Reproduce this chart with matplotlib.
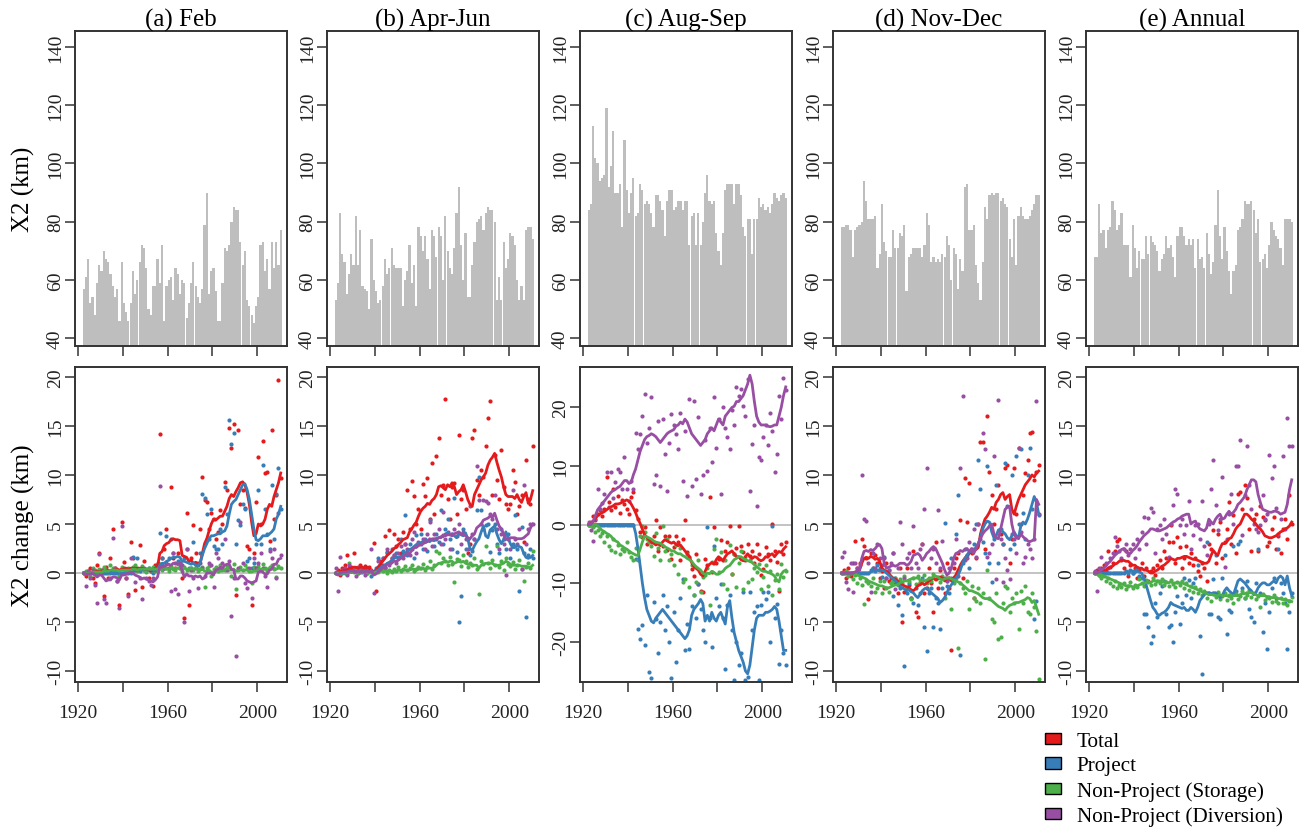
import numpy as np
import matplotlib
matplotlib.use('Agg')
import matplotlib.pyplot as plt
from matplotlib.patches import Patch

plt.rcParams['font.family'] = 'Liberation Serif'
plt.rcParams['axes.unicode_minus'] = False

years = np.arange(1922, 2011)

# X2 (km), one bar per year, 1922-2010
bars_feb = [57, 61, 67, 52, 54, 48, 59, 65,
            63, 70, 67, 66, 62, 58, 54, 57, 46, 66,
            52, 49, 46, 52, 63, 55, 60, 66, 72, 71,
            64, 50, 48, 58, 58, 67, 59, 72, 46, 58,
            60, 61, 53, 64, 62, 55, 60, 59, 47, 52,
            59, 66, 58, 54, 52, 57, 79, 90, 55, 63,
            64, 56, 46, 46, 59, 71, 70, 72, 80, 85,
            84, 84, 73, 65, 70, 53, 51, 48, 45, 51,
            54, 72, 73, 63, 67, 57, 73, 64, 73, 65, 77]
bars_amj = [53, 59, 83, 69, 66, 55, 62, 69, 65, 82, 65, 77, 58, 57, 56, 50, 74, 60,
            56, 52, 53, 58, 67, 62, 64, 71, 65, 64, 64, 64, 51, 60, 63, 72, 59, 65, 51, 78, 75, 70,
            75, 67, 57, 77, 75, 68, 78, 75, 60, 82, 70, 64, 62, 71, 83, 92, 72, 60, 76, 54, 54, 65,
            73, 80, 81, 82, 77, 83, 85, 84, 84, 80, 53, 61, 53, 73, 64, 67, 76, 75, 72, 60, 53, 58,
            53, 77, 78, 78, 74]
bars_as = [84, 86, 113, 102, 100, 94, 95, 96, 119, 92, 99,
           111, 90, 90, 93, 78, 108, 91, 83, 90, 95,
           82, 83, 93, 91, 86, 87, 86, 83, 78, 89,
           89, 87, 84, 75, 87, 91, 91, 84, 85, 87,
           87, 84, 87, 87, 72, 82, 83, 72, 83, 72, 80,
           90, 96, 87, 86, 87, 76, 70, 65, 76, 91,
           93, 93, 93, 86, 93, 93, 89, 78, 75, 81,
           81, 69, 81, 81, 88, 85, 86, 84, 85, 83, 86,
           90, 88, 87, 89, 90, 88]
bars_nd = [78, 78, 79, 79, 77, 68, 77, 78, 79, 80,
           94, 87, 81, 81, 81, 82, 64, 69, 86, 73, 70,
           68, 68, 77, 71, 71, 76, 75, 79, 56, 68,
           69, 71, 71, 71, 71, 68, 72, 83, 79, 66,
           68, 66, 67, 66, 69, 68,
           75, 72, 60, 71, 69, 57, 67, 63, 92, 93,
           77, 77, 79, 65, 59, 53, 66, 85, 81, 89,
           90, 89, 90, 90, 87, 88,
           86, 85, 74, 68, 81, 65, 82, 85, 82, 81,
           81, 82, 84, 86, 89, 89]
bars_ann = [68, 68, 86, 76, 77, 71, 77, 78, 87, 84,
            77, 79, 83, 72, 72, 72, 61, 79, 71, 64, 70,
            67, 67, 75, 69, 75, 73, 72, 70, 63, 67,
            69, 75, 71, 72, 68, 61, 75, 78, 78, 75, 72,
            74, 72, 74, 64, 74, 67, 68, 64, 76, 69,
            62, 66, 79, 91, 75, 67, 78, 70, 63, 55, 63,
            65, 77, 78, 81, 87, 86, 86, 87, 84, 76,
            81, 66, 67, 69, 64, 72, 80, 77, 75, 74,
            71, 65, 81, 81, 81, 80]

# X2 change (km): yearly points and smoothed lines
# Feb
feb_tot_pts = [0, -0.3, 0.2, 0.5, -0.5, -1.0, 0.8, 2.0,
               0.3, -2.3, 0.6, -0.5, 1.5, 4.5, 0.5, -0.8, -3.3, 5.2,
               1.1, -0.5, -2.1, 3.2, 1.5, -1.7, 0.5, 2.9, -1.4, 1.2,
               0.3, -0.5, 0.2, -1.3, 0.8, 1.0, 14.2, 1.5, 2.5, 4.5,
               0.5, 8.8, 1.5, 0.5, 2.0, 1.0, -0.5, -4.6, 6.1, -3.3,
               1.5, 4.9, 2.0, 1.0, 4.5, 9.8, 7.4, 7.2, 4.5, 6.1,
               5.5, 3.5, 4.2, 6.4, 5.0, 9.3, 8.5, 14.8, 12.7, 15.2,
               -2.2, 14.6, 7.0, 8.5, 6.6, 2.8, 2.5, -3.3, 2.0, 7.2,
               11.8, 5.0, 13.5, 10.2, 10.3, 3.3, 14.6, 5.5, 8.0, 19.7, 9.7]
feb_tot_line = [0, 0, 0, 0, 0.1, 0.1, 0.2, 0.1,
                0.2, 0.1, 0.2, 0.3, 0.2, 0.3, 0.3, 0.4, 0.3, 0.4,
                0.4, 0.5, 0.4, 0.5, 0.5, 0.5, 0.4, 0.5, 0.5, 0.4,
                0.4, 0.3, 0.2, 0.3, 0.5, 0.6, 2.0, 2.2, 2.8, 3.0,
                3.1, 3.4, 3.5, 3.4, 3.4, 3.3, 1.8, 1.7, 1.6, 1.2,
                1.3, 1.0, 1.1, 0.9, 1.0, 2.0, 3.0, 3.5, 4.3, 5.0,
                5.5, 5.4, 5.6, 5.8, 5.8, 6.3, 6.8, 7.6, 8.0, 7.8,
                8.3, 8.7, 9.2, 9.3, 9.0, 8.2, 7.0, 5.2, 3.8, 4.0,
                5.0, 4.8, 5.0, 5.5, 6.5, 7.0, 6.8, 7.8, 8.5, 9.2, 10.2]
feb_prj_pts = [0, 0, 0, 0, 0, 0, 0, 0,
               0, 0, 0, 0, 0, 0, 0, 0, 0, 0,
               0, 0, 0, 0, 1.6, 0.3, 1.5, 0.2, 0.5, 0.3,
               0.3, 0.5, 0.2, 0, 0.5, 0.8, 4.1, 1.5, 0.5, 3.8,
               1.5, 3.5, 2.0, 1.0, 1.2, 0.8, 0.5, 1.5, 2.5, 0.5,
               0.5, 3.2, 1.0, 0.8, 2.0, 8.1, 7.7, 6.0, 3.5, 6.5,
               2.8, 2.5, 2.5, 4.5, 3.0, 8.8, 6.0, 15.6, 13.2, 14.3,
               3.0, 5.4, 4.9, 7.0, 6.5, 1.2, 1.5, 0.5, 1.0, 3.0,
               8.5, 3.0, 11.0, 6.5, 4.0, 2.5, 9.0, 3.5, 8.1, 10.7, 6.5]
feb_prj_line = [0, 0, 0, 0, 0, 0, 0, 0,
                0, 0, 0, 0, 0, 0, 0, 0, 0, 0,
                0, 0, 0, 0, 0.2, 0.2, 0.3, 0.3, 0.3, 0.4,
                0.4, 0.4, 0.4, 0.3, 0.4, 0.4, 0.8, 1.0, 1.0, 1.2,
                1.3, 1.5, 1.6, 1.6, 1.7, 1.6, 1.2, 1.2, 1.1, 1.0,
                0.9, 1.0, 0.8, 0.8, 1.0, 1.8, 2.5, 3.0, 3.5, 3.8,
                3.8, 3.9, 4.0, 4.0, 4.2, 4.3, 4.8, 6.0, 7.0, 7.3,
                7.5, 8.0, 8.5, 9.0, 9.1, 8.5, 7.5, 6.0, 4.5, 3.4,
                3.3, 3.5, 3.8, 3.8, 3.8, 4.0, 4.2, 4.5, 5.5, 6.0, 6.8]
feb_sto_pts = [0, 0.2, 0.1, -0.3, 0.5, 0.3, -0.2, 0.4,
               0.2, 0.6, 0.3, 0.1, 0.8, 0.5, 0.2, 0.3, -0.3, 0.6,
               0.4, 0.2, 0.5, 0.3, 0.6, 0.8, 0.2, 0.4, 0.7, 0.3,
               0.1, 0.5, 0.3, 0.6, 0.2, 0.4, 0.9, 0.3, 0.6, 0.5,
               0.2, 0.7, 0.4, 0.3, 0.9, 0.5, 0.2, 0.6, 0.3, 0.4,
               0.5, 0.3, 0.8, 0.2, 0.4, 0.6, -1.4, 0.5, 0.7, -0.3,
               0.4, 0.6, 0.2, 0.8, 0.5, 0.3, 0.7, 0.4, -0.3, 0.9,
               -1.6, 0.4, 0.6, 0.3, 0.8, 0.5, 0.2, -1.0, 0.6, 0.4,
               0.7, 0.3, 0.9, 0.5, 0.2, 0.6, 0.8, 0.4, -0.4, 0.7, 0.5]
feb_sto_line = [0, 0, 0, 0, 0.1, 0.1, 0.1, 0.1,
                0.1, 0.2, 0.2, 0.2, 0.3, 0.3, 0.3, 0.3, 0.2, 0.3,
                0.3, 0.3, 0.3, 0.3, 0.4, 0.4, 0.3, 0.4, 0.4, 0.4,
                0.4, 0.4, 0.4, 0.4, 0.4, 0.4, 0.4, 0.5, 0.5, 0.4,
                0.4, 0.5, 0.4, 0.5, 0.5, 0.4, 0.5, 0.5, 0.4, 0.4,
                0.4, 0.4, 0.5, 0.4, 0.4, 0.4, 0.2, 0.2, 0.3, 0.1,
                0.1, 0.2, 0.2, 0.2, 0.2, 0.3, 0.5, 0.4, 0.3, 0.4,
                0.2, 0.2, 0.3, 0.3, 0.3, 0.3, 0.2, 0.1, 0.2, 0.2,
                0.4, 0.4, 0.4, 0.4, 0.4, 0.5, 0.5, 0.5, 0.4, 0.5, 0.5]
feb_div_pts = [0, -1.3, 0.2, -0.5, 0.3, -1.2, -3.1, 1.9,
               0.3, -2.6, -3.1, 0.2, -0.5, 3.6, 0.5, -0.8, -3.6, 4.8,
               0.5, -0.5, -2.3, 1.5, 0.3, -0.9, 0.3, -0.5, -2.6, 0.5,
               -0.5, -0.8, -1.2, -0.5, 0.3, 0.5, 8.9, 0.8, 0.5, 1.0,
               0.5, -1.8, 2.0, -1.6, -2.1, 1.0, 0.8, -5.0, 2.5, -1.8,
               0.3, -0.5, 0.5, -1.5, 1.0, 0.5, -0.3, 3.5, 1.0, 0.8,
               -1.4, 2.0, 1.5, 0.5, 1.0, 3.5, 0.3, 1.2, -4.4, -0.5,
               -8.4, 0.5, 5.2, 1.0, -1.0, -1.5, 0.5, -2.5, 1.5, 0.5,
               1.0, 2.0, 0.5, -0.3, -1.4, 2.3, 1.5, 2.5, -0.5, 6.1, 1.8]
feb_div_line = [0, -0.1, -0.1, -0.1, 0, -0.2, -0.4, -0.2,
                -0.2, -0.5, -0.8, -0.7, -0.7, -0.4, -0.4, -0.5, -0.7, -0.2,
                -0.2, -0.1, 0, 0.1, 0, -0.2, -0.3, -0.4, -0.6, -0.5,
                -0.6, -0.7, -0.8, -0.9, -0.7, -0.4, 0.6, 0.6, 0.7, 0.8,
                0.9, 0.8, 1.0, 1.0, 0.9, 1.0, 0.2, -0.4, -0.1, -0.3,
                -0.3, -0.4, -0.3, -0.4, -0.3, -0.6, -0.5, 0, 0, 0,
                -0.2, 0.3, 0.4, 0.6, 0.5, 0.8, 0.9, 0.9, 0.4, 0.3,
                -0.6, -0.6, -0.3, -0.3, -0.5, -0.8, -0.9, -1.0, -0.9, -0.8,
                0.1, 0.2, 0.1, -0.1, -0.1, 0.3, 0.4, 0.9, 0.9, 1.4, 1.5]

# Apr-Jun
amj_tot_pts = [0, 0.3, -0.2, 0.5, 0.8, 1.8, 0.4, 0.6,
               2.0, 0.5, 0.3, 0.8, 0.4, 0.7, 0.2, 0.6, 0.3, 3.1,
               -1.8, 0.6, 1.2, 0.8, 3.8, 2.1, 4.4, 1.5, 4.0, 2.8,
               3.5, 2.0, 4.2, 3.0, 8.5, 4.5, 9.4, 7.9, 5.0, 6.5,
               4.5, 9.1, 7.9, 9.7, 5.5, 11.2, 6.0, 11.9, 13.8, 8.0,
               9.0, 17.7, 7.5, 5.5, 8.8, 9.2, 6.0, 14.1, 7.5, 8.5,
               6.5, 2.0, 3.0, 13.8, 14.6, 9.5, 8.0, 10.5, 9.8, 13.0,
               15.8, 17.5, 8.0, 12.0, 9.5, 7.5, 12.5, 8.8, 7.0, 6.5,
               7.0, 10.5, 9.3, 6.0, 6.8, 8.0, 3.2, 11.5, 7.5, 7.0, 12.9]
amj_tot_line = [0, 0.1, 0.2, 0.2, 0.3, 0.3, 0.5, 0.5,
                0.6, 0.6, 0.5, 0.6, 0.6, 0.5, 0.6, 0.5, 0.2, 0.1,
                0.3, 0.6, 0.9, 1.2, 1.5, 1.8, 2.0, 2.2, 2.5, 2.6,
                2.9, 3.1, 3.4, 3.5, 3.6, 4.2, 4.5, 4.9, 5.2, 5.8,
                6.3, 6.6, 6.8, 7.1, 7.0, 7.4, 7.6, 8.0, 8.8, 8.9,
                8.7, 8.5, 9.0, 8.8, 9.2, 8.8, 8.0, 8.3, 8.5, 9.0,
                8.3, 7.5, 7.0, 6.8, 8.0, 8.5, 9.0, 9.5, 9.8, 10.2,
                11.0, 11.5, 11.8, 12.2, 11.3, 10.5, 9.8, 8.8, 8.0, 7.8,
                7.8, 7.8, 7.6, 8.0, 7.5, 7.2, 7.8, 8.2, 7.1, 7.5, 8.4]
amj_prj_pts = [0, 0, 0, 0, 0, 0, 0.3, 0.2,
               0.3, 0.2, 0, 0.3, 0.1, 0.4, 0, 0.2, -0.3, 0.1,
               0.5, 1.5, 0.8, 1.5, 0.6, 2.0, 1.0, 2.5, 1.8, 2.0,
               1.5, 3.5, 2.2, 5.9, 1.8, 3.0, 2.5, 1.5, 3.9, 3.0,
               4.0, 2.5, 3.5, 2.2, 5.4, 3.5, 2.8, 4.0, 3.2, 6.4,
               3.0, 4.5, 5.5, 3.5, 2.5, 7.6, 2.1, -5.0, -2.3, 4.5,
               2.5, 3.5, 1.8, 2.2, 3.5, 6.4, 9.8, 6.4, 4.5, 4.9,
               5.0, 2.1, 4.4, 5.0, 3.0, 2.0, 4.5, 3.5, 2.5, 4.0,
               1.5, 3.0, 5.9, 2.5, -1.8, 4.7, 2.0, -4.5, 1.8, 2.5, 1.5]
amj_prj_line = [0, 0, 0, 0, 0, 0, 0.1, 0.1,
                0.1, 0.1, 0.1, 0.1, 0.1, 0.1, 0.1, 0.1, 0, 0,
                0.2, 0.3, 0.5, 0.7, 0.8, 1.0, 1.1, 1.3, 1.5, 1.6,
                1.6, 1.7, 1.8, 2.0, 2.2, 2.4, 2.5, 2.7, 2.9, 3.0,
                3.1, 3.2, 3.1, 3.3, 3.2, 3.4, 3.3, 3.5, 3.6, 3.7,
                3.7, 4.0, 4.1, 3.9, 4.0, 3.8, 3.6, 4.0, 3.9, 3.8,
                4.1, 3.5, 2.5, 2.3, 2.8, 3.2, 3.5, 4.2, 4.8, 3.8,
                3.6, 4.4, 4.6, 4.8, 4.0, 3.4, 3.0, 3.4, 4.2, 3.6,
                3.0, 2.6, 2.6, 2.8, 2.7, 2.6, 2.0, 1.6, 1.5, 1.6, 1.8]
amj_sto_pts = [0, 0.1, 0, 0.2, 0.3, 0, 1.0, 0.2,
               0.1, 0.3, 0, 0.2, 0.4, 0.1, 0, 0.3, 0.2, 0,
               0.3, 0.1, 0.4, 0.2, 0.5, 0, 0.3, 0.1, 0.4, 0.2,
               0.6, 0.2, 0.4, 0.7, 0.3, 0.5, 0.8, 0.2, 0.4, 0.6,
               0.5, 0.9, 0.3, 0.6, 1.2, 0.4, 0.8, 2.3, 2.0, 1.0,
               1.5, 1.2, 0.8, 1.6, 0.9, -0.9, 1.4, 1.3, 0.7, 1.8,
               1.2, 0.6, 1.0, 0.8, 1.5, 0.4, -2.1, 1.2, 0.9, 2.8,
               1.0, 0.5, 1.3, 0.8, 2.8, 0.6, 1.2, 0.3, 1.5, 0.9,
               0.7, 1.1, 0.4, 0.8, 1.3, 0.4, -0.8, 0.6, 1.0, 0.5, 2.2]
amj_sto_line = [0, 0, 0, 0, 0, 0, 0.1, 0.1,
                0.1, 0.1, 0.1, 0.1, 0.1, 0.1, 0.1, 0.1, 0, 0,
                0.1, 0.1, 0.2, 0.2, 0.2, 0.2, 0.2, 0.2, 0.2, 0.2,
                0.3, 0.3, 0.3, 0.3, 0.3, 0.3, 0.4, 0.4, 0.3, 0.4,
                0.4, 0.5, 0.4, 0.5, 0.5, 0.5, 0.6, 0.8, 1.0, 1.0,
                1.1, 1.2, 1.1, 1.2, 1.2, 1.0, 1.1, 1.2, 1.1, 1.2,
                1.0, 0.9, 0.9, 0.8, 0.8, 0.8, 0.5, 0.8, 0.9, 1.0,
                1.0, 1.0, 1.0, 0.8, 0.8, 0.8, 0.9, 1.0, 1.2, 1.1,
                0.9, 0.8, 0.8, 0.8, 0.8, 0.7, 0.7, 0.7, 0.6, 0.6, 0.8]
amj_div_pts = [0.5, -1.8, 1.6, 0.3, 0.5, -0.2, 0.8, 0.4,
               0.2, -0.3, 0.6, 0.1, 0.4, -0.2, 0.5, 0.3, 2.5, -2.0,
               0.3, 1.2, 0.8, 1.5, 0.5, 2.5, 0.8, 1.5, 1.8, 1.0,
               2.0, 2.8, 1.5, 3.0, 2.5, 1.8, 3.5, 4.2, 2.0, 3.2,
               3.0, 3.5, 2.5, 4.0, 5.2, 2.8, 4.0, 3.5, 4.5, 3.0,
               6.2, 3.5, 4.2, 2.5, 4.0, 4.5, 3.8, 5.0, 3.0, 4.2,
               3.5, 2.5, 6.8, 4.0, 3.5, 10.9, 7.4, 5.0, 7.4, 7.3,
               7.1, 6.0, 5.5, 8.0, 4.5, 2.5, 4.0, 3.0, -0.2, 3.5,
               2.5, 8.5, 3.5, 3.0, 4.5, 0.4, 9.0, 3.0, 4.5, 5.0, 5.0]
amj_div_line = [0, -0.2, 0, 0.1, 0.1, 0.1, 0.2, 0.2,
                0.2, 0.1, 0.2, 0.1, 0.2, 0.1, 0.2, 0.1, 0.3, -0.2,
                -0.1, 0.1, 0.3, 0.5, 0.7, 0.9, 0.9, 1.0, 1.2, 1.2,
                1.3, 1.5, 1.6, 1.8, 2.0, 2.0, 2.3, 2.6, 2.6, 2.8,
                2.9, 3.0, 3.1, 3.2, 3.5, 3.4, 3.5, 3.5, 3.6, 3.6,
                3.9, 3.8, 3.9, 3.9, 3.8, 4.0, 4.1, 4.2, 4.0, 4.0,
                3.8, 3.6, 3.5, 3.8, 4.0, 4.6, 4.8, 5.0, 5.4, 5.5,
                5.6, 5.8, 5.7, 6.1, 5.4, 4.8, 4.5, 4.0, 3.5, 3.4,
                3.6, 3.6, 3.6, 3.5, 3.5, 3.5, 3.6, 3.8, 4.0, 4.6, 5.0]

# Aug-Sep
as_tot_pts = [0, 0.5, 1.5, 0.8, 1.8, 2.5, 1.5, 2.7,
              8.1, 3.8, 2.5, 6.1, 3.0, 4.9, 2.0, 4.1, 3.5, 2.7,
              1.8, 4.7, 5.5, 2.4, 1.0, -1.3, -2.2, -0.5, -3.3, -2.5,
              -3.0, -2.0, 0.7, -4.5, -0.5, -3.6, -1.9, -4.4, -2.0, -5.9,
              -3.9, -1.9, -3.0, -6.1, -2.5, 0.7, -4.7, -5.5, -7.6, -8.8,
              -5.0, -10.1, -11.3, -11.5, -5.9, -7.0, 4.7, -8.1, -0.5, -6.5,
              -5.9, -2.7, -6.0, -4.5, -3.0, -0.2, -8.4, -5.0, -4.0, -0.2,
              -3.6, -4.7, -6.0, -3.3, -5.3, -4.5, -6.5, -3.3, -5.0, -8.7,
              -7.6, -3.9, -5.0, -6.0, 0.1, -4.5, -6.4, -11.3, -3.3, -5.0, -3.0]
as_tot_line = [0, 0, 0.5, 1.0, 1.5, 1.8, 2.0, 2.2,
               2.5, 2.8, 3.0, 3.2, 3.5, 3.5, 3.6, 3.8, 4.0, 4.2,
               4.0, 3.5, 2.8, 2.0, 1.0, 0.2, -0.8, -1.8, -2.2, -2.6,
               -3.0, -3.2, -3.5, -3.3, -3.6, -3.0, -2.6, -2.8, -3.0, -3.2,
               -3.0, -3.4, -3.6, -3.5, -4.0, -4.5, -5.0, -5.5, -6.5, -7.2,
               -7.5, -7.8, -8.5, -8.8, -8.0, -7.2, -6.8, -6.5, -6.8, -6.0,
               -5.5, -5.8, -6.2, -5.5, -5.0, -4.8, -4.5, -5.0, -5.5, -5.5,
               -6.0, -6.2, -5.5, -5.0, -5.5, -5.8, -5.5, -5.6, -6.0, -6.2,
               -6.0, -5.5, -5.6, -5.2, -5.0, -5.5, -5.0, -4.6, -4.8, -4.2, -3.8]
as_prj_pts = [0, 0, 0, 0, 0, 0, 0, 0,
              0, 0, 0, 0, 0, 0, 0, 0, 0, 0,
              0, 0, 0, -5.9, -17.8, -19.5, -17.2, -20.6, -12.0, -25.2,
              -26.3, -13.2, -16.1, -22.0, -16.6, -12.0, -18.0, -14.0, -20.0, -26.3,
              -15.0, -23.5, -18.0, -12.5, -9.3, -21.5, -17.0, -21.2, -14.0, -12.1,
              -16.0, -10.1, -14.5, -18.0, -20.0, -0.5, -16.0, -21.0, -3.6, -12.5,
              -14.0, -10.1, -16.0, -24.6, -13.8, -12.0, -18.0, -26.5, -20.0, -24.0,
              -22.0, -11.5, -26.5, -26.0, -11.5, -18.0, -15.0, -14.0, -26.5, -13.8,
              -11.5, -12.7, -11.5, -20.0, -0.2, -16.0, -13.5, -23.8, -18.0, -22.0, -24.0]
as_prj_line = [0, 0, 0, 0, 0, 0, 0, 0,
               0, 0, 0, 0, 0, 0, 0, 0, 0, 0,
               0, 0, 0, -1.5, -4.0, -7.0, -10.0, -12.5, -14.5, -15.5,
               -16.5, -16.8, -16.0, -15.5, -15.0, -14.5, -15.0, -15.5, -16.0, -16.5,
               -17.0, -17.5, -18.0, -18.5, -19.0, -19.5, -19.0, -18.0, -15.5, -14.5,
               -14.0, -13.5, -12.8, -13.5, -16.5, -15.5, -16.5, -15.0, -16.0, -16.5,
               -15.5, -15.0, -16.0, -17.0, -14.0, -13.0, -16.0, -18.5, -20.0, -21.5,
               -22.5, -23.5, -25.0, -25.5, -24.0, -21.0, -18.0, -16.0, -15.5, -15.5,
               -15.5, -15.0, -15.0, -14.8, -14.5, -14.0, -14.5, -16.5, -19.0, -21.5, -21.5]
as_sto_pts = [0, 0, -0.5, -1.2, -1.0, -1.9, -1.5, -3.0,
              -2.0, -3.6, -4.4, -2.5, -4.7, -3.5, -5.0, -4.1, -4.5, -3.0,
              -4.7, -5.5, -6.0, -4.0, -6.1, -1.9, -0.2, -1.3, -2.4, -3.0,
              -3.6, -5.3, -1.5, -4.0, -6.1, -0.2, -4.5, -2.5, -6.1, -5.0,
              -7.0, -3.5, -8.4, -4.0, -9.8, -9.3, -5.0, -10.7, -7.0, -12.1,
              -9.8, -6.0, -11.5, -9.0, -8.7, -7.5, -13.8, -6.4, -4.1, -2.4,
              -8.1, -4.7, -10.1, -6.0, -11.0, -3.5, -8.4, -5.0, -10.7, -6.5,
              -4.5, -11.0, -5.5, -9.8, -6.0, -9.3, -7.5, -8.1, -6.7, -11.0,
              -9.0, -7.0, -10.5, -8.0, -12.0, -9.5, -8.5, -11.0, -6.7, -9.0, -8.0]
as_sto_line = [0, 0, 0, 0, -0.2, -0.6, -1.0, -1.2,
               -1.5, -1.7, -2.0, -2.5, -2.8, -3.0, -3.5, -3.7, -4.0, -4.2,
               -4.5, -4.8, -5.0, -5.2, -5.3, -4.2, -3.0, -2.0, -2.1, -2.3,
               -2.5, -2.8, -3.0, -3.1, -3.2, -3.5, -3.8, -4.0, -4.2, -4.5,
               -4.5, -4.8, -5.0, -5.0, -5.3, -5.5, -5.8, -6.0, -6.3, -6.8,
               -7.2, -7.5, -7.8, -8.3, -8.5, -8.3, -8.4, -8.0, -8.2, -8.5,
               -8.5, -8.2, -8.0, -7.5, -7.2, -7.0, -6.5, -6.0, -5.8, -5.5,
               -5.5, -5.8, -6.0, -6.2, -6.3, -6.5, -6.8, -7.2, -7.5, -7.8,
               -8.0, -8.0, -8.2, -8.3, -8.5, -8.8, -9.5, -9.8, -8.5, -8.0, -7.8]
as_div_pts = [0.5, -1.0, -2.8, 1.0, 6.1, 2.7, 3.7, 5.2,
              8.9, 3.0, 8.9, 4.5, 7.2, 9.5, 8.9, 6.1, 11.5, 6.1,
              4.0, 7.5, 6.0, 15.7, 12.9, 15.5, 18.6, 22.3, 14.0, 16.5,
              21.7, 6.9, 8.4, 17.7, 6.6, 18.0, 12.0, 5.8, 14.0, 18.9,
              17.0, 15.5, 12.9, 19.1, 7.5, 16.0, 4.9, 21.4, 6.6, 21.1,
              7.8, 18.3, 5.2, 8.4, 14.5, 9.2, 16.5, 10.6, 21.7, 13.0,
              18.0, 5.2, 20.0, 16.5, 15.0, 12.9, 19.5, 17.0, 23.4, 22.0,
              23.1, 20.3, 18.5, 24.8, 5.8, 13.8, 17.0, 3.2, 11.5, 11.1,
              15.0, 17.0, 13.5, 19.1, 16.0, 8.9, 12.0, 22.0, 18.0, 25.0, 23.0]
as_div_line = [0, 0, 0.5, 1.5, 2.5, 3.0, 3.5, 4.0,
               4.5, 5.0, 5.5, 5.8, 6.0, 6.3, 6.5, 7.0, 7.5, 7.5,
               7.0, 7.2, 8.5, 9.5, 11.0, 12.5, 13.5, 14.5, 15.0, 15.2,
               15.5, 15.3, 15.0, 14.5, 14.0, 14.5, 15.0, 15.5, 15.8, 16.0,
               16.2, 16.8, 17.0, 17.5, 17.2, 18.0, 17.5, 16.5, 15.5, 15.0,
               14.5, 14.0, 13.5, 14.0, 14.5, 15.5, 16.0, 16.5, 16.0, 17.0,
               18.0, 17.5, 17.0, 18.5, 19.0, 19.5, 20.0, 20.2, 21.0, 21.0,
               21.5, 22.0, 23.0, 24.0, 25.5, 24.0, 21.0, 18.5, 17.5, 17.0,
               17.0, 17.0, 16.8, 16.7, 16.8, 17.0, 17.0, 18.5, 20.0, 22.0, 23.5]

# Nov-Dec
nd_tot_pts = [0, 0.3, -0.5, 0.5, -0.3, 1.0, 3.3, 0.5,
              1.0, 3.5, 2.8, 1.5, -2.6, 2.0, 0.5, 1.8, 1.0, -0.5,
              0.2, -1.5, 1.0, -0.8, -0.5, 2.0, -1.0, -2.0, 0.5, -5.0,
              -1.9, 0.5, -1.2, -2.5, 2.2, -4.0, -4.5, -1.0, 3.0, -2.0,
              -1.5, 0.5, -1.0, -4.0, 3.2, -1.5, 0.3, -0.5, -2.0, 1.0,
              -1.5, -7.8, 0.5, 1.5, 2.0, 5.4, -0.5, 9.7, 5.2, 9.2,
              2.0, -2.5, 1.5, 5.0, 13.4, 13.4, 2.5, 16.0, 10.3, 8.0,
              5.0, 6.5, 9.0, 4.0, 3.0, 10.7, 11.0, 1.0, 3.5, 10.7,
              6.0, 12.7, 5.0, 8.0, 10.2, 11.5, 14.3, 14.4, 9.5, 10.3, 11.0]
nd_tot_line = [0, 0, 0, 0, 0, 0, 0.1, 0.2,
               0.3, 1.0, 1.5, 1.6, 1.5, 1.7, 1.6, 1.4, 1.5, 1.2,
               0.5, 0.3, 0.2, 0, -0.3, -0.5, -0.6, -0.8, -1.0, -1.2,
               -1.3, -1.4, -1.5, -1.7, -1.8, -1.6, -1.3, -1.2, -1.0, -1.2,
               -1.0, -0.8, -0.6, -0.5, -0.7, -0.6, -0.4, -0.5, -0.8, -0.5,
               -0.5, -0.8, -0.5, -0.2, 0.3, 0.8, 1.2, 1.5, 1.8, 2.0,
               2.2, 2.3, 2.4, 2.6, 4.0, 4.8, 5.5, 5.8, 6.2, 6.7,
               6.5, 7.2, 7.5, 8.0, 8.2, 7.5, 7.8, 8.0, 6.5, 6.0,
               6.8, 7.5, 8.0, 8.5, 9.0, 9.3, 9.6, 10.0, 9.8, 10.2, 10.4]
nd_prj_pts = [0, 0, 0, 0, 0, 0, 0, 0,
              0, 0, 0, 0, 0, 0.3, 0.5, 0.2, 0.8, 0.5,
              -0.4, 1.6, -0.5, 0.3, -1.0, -2.3, -0.5, -3.3, -1.5, -4.3,
              -9.5, -2.0, -1.0, -2.5, -3.0, -1.5, -3.3, -2.0, -0.5, -5.5,
              -7.9, -2.0, -1.5, -5.5, -2.5, -3.0, -5.7, -1.5, 5.1, -1.3,
              -2.0, 1.5, -0.5, 4.0, 8.0, -8.3, 1.0, 2.5, 1.8, 0.5,
              2.2, 3.0, 5.0, 11.5, 8.6, 3.2, 2.0, 10.9, 1.0, -0.9,
              3.5, 9.0, 1.0, 4.5, 3.0, 11.2, 6.8, 2.5, 10.0, 3.0,
              11.9, 5.0, 12.6, 6.1, 3.5, 10.0, 12.7, 6.5, -4.7, -2.8, 5.9]
nd_prj_line = [0, 0, 0, 0, 0, 0, 0, 0,
               0, 0, 0, 0, 0, 0.1, 0.2, 0.2, 0.3, 0.2,
               0.3, 0.2, 0, -0.2, -0.4, -0.6, -0.8, -1.0, -1.3, -1.5,
               -1.6, -1.8, -1.7, -1.9, -2.0, -2.3, -2.5, -2.2, -1.8, -1.6,
               -1.5, -1.8, -2.0, -2.2, -2.4, -2.6, -3.0, -2.8, -2.5, -2.0,
               -1.5, -1.2, -0.8, -0.5, -0.2, 0.3, 1.0, 1.5, 1.8, 2.2,
               2.2, 2.4, 2.6, 3.0, 3.6, 4.5, 5.0, 5.3, 5.2, 4.2,
               3.6, 3.8, 4.4, 4.5, 4.2, 4.0, 3.6, 3.4, 3.8, 4.2,
               3.8, 3.6, 4.8, 5.2, 5.0, 5.5, 6.2, 7.0, 7.8, 7.2, 6.0]
nd_sto_pts = [0, 0, 0.2, -0.3, 0, -0.6, -0.2, -1.0,
              -0.5, -1.2, -3.2, -0.8, -1.0, -1.3, -0.5, -1.9, -1.5, -0.8,
              -2.0, -0.8, -1.5, -1.9, -1.0, -0.8, -0.5, -1.2, -0.6, -1.0,
              -0.3, -1.5, -0.8, -2.6, -0.5, -1.1, -0.3, -0.9, -0.7, -0.2,
              -1.0, -0.5, -0.8, -0.1, -0.6, -0.4, -0.9, -0.3, -2.5, -0.8,
              -0.5, -3.7, -1.0, -0.5, -7.6, -1.0, -1.5, -2.0, -0.8, -3.7,
              -1.3, -2.5, -2.8, -1.5, -3.0, -2.0, -8.8, 0.3, -2.5, -4.7,
              -5.0, -2.0, -6.7, -6.5, -3.0, -1.3, -1.5, -4.0, -2.5, -3.0,
              -2.0, -5.7, -1.8, -3.0, -1.3, -4.0, -4.2, -2.0, -3.5, -5.9, -10.8]
nd_sto_line = [0, 0, 0, 0, 0, 0, -0.1, -0.2,
               -0.3, -0.4, -0.5, -0.6, -0.8, -0.9, -1.0, -1.1, -1.2, -1.3,
               -1.3, -1.4, -1.5, -1.5, -1.4, -1.3, -1.2, -1.2, -1.0, -0.9,
               -0.8, -0.8, -0.7, -0.6, -0.5, -0.5, -0.5, -0.7, -0.8, -0.8,
               -0.7, -0.6, -0.5, -0.4, -0.3, -0.4, -0.6, -0.7, -0.6, -0.5,
               -0.5, -0.6, -0.7, -0.8, -0.9, -1.0, -1.2, -1.4, -1.6, -1.8,
               -1.8, -1.9, -2.0, -2.1, -2.3, -2.5, -2.6, -2.6, -2.7, -2.8,
               -3.0, -3.2, -3.4, -3.5, -3.6, -3.8, -3.5, -3.3, -3.2, -3.1,
               -3.0, -3.0, -2.9, -2.8, -2.7, -2.5, -2.6, -3.0, -2.8, -3.5, -4.2]
nd_div_pts = [1.6, 2.1, -0.9, -1.6, 1.0, -1.9, 1.0, 0.5,
              0.8, 10.0, 5.5, 5.3, 1.0, -1.9, 2.0, 0.5, 3.0, 1.5,
              0.8, 1.5, -0.5, 0.3, 1.0, 2.0, -1.6, 0.5, 5.2, 3.0,
              -0.5, 1.5, 2.0, 0.5, 4.8, 1.0, 0.5, 2.5, 3.0, 6.5,
              10.7, -0.6, 1.5, 2.5, 1.0, 6.4, 0.5, 3.3, -0.5, -0.8,
              0.5, -0.5, 1.0, 3.5, -0.3, 10.7, 18.0, 1.3, 1.5, 3.2,
              2.5, 4.5, 1.6, 5.0, 3.5, 14.3, 12.6, 1.6, 2.0, 3.0,
              11.9, -0.6, 17.6, 3.5, -0.9, 1.5, 0.3, -0.6, 4.0, 3.5,
              2.0, 12.7, 4.2, 1.0, 1.6, 3.0, 2.5, 1.5, 3.5, 17.5, 6.0]
nd_div_line = [0, 0, 0, 0, 0, 0, 0.1, 0.2,
               0.3, 1.5, 2.2, 2.3, 2.2, 2.4, 2.3, 2.5, 2.8, 2.9,
               2.5, 1.0, 0.5, 0.6, 0.7, 0.8, 0.7, 0.8, 1.0, 1.0,
               1.0, 0.8, 0.9, 1.2, 1.8, 1.9, 2.0, 1.8, 1.3, 1.6,
               2.0, 2.2, 2.5, 2.7, 2.5, 2.0, 1.5, 1.0, 0.3, -0.2,
               0, 0.5, 1.5, 2.0, 2.1, 2.3, 2.2, 2.4, 2.5, 2.2,
               2.5, 2.0, 2.5, 3.0, 3.5, 4.0, 4.3, 4.5, 4.8, 5.0,
               4.0, 3.6, 3.5, 4.5, 5.5, 6.5, 6.7, 6.8, 5.0, 4.0,
               3.6, 3.5, 4.0, 3.7, 3.5, 3.3, 3.2, 3.3, 3.4, 7.5, 7.0]

# Annual
ann_tot_pts = [0, 0.3, -0.2, 0.5, 0.8, 0.2, 2.3, 0.6,
               1.0, 2.2, 3.3, 3.5, 1.3, 0.5, 2.2, -0.3, 0.8, 0,
               0.5, -0.5, 0.3, 1.0, -0.3, 0.5, -0.8, 0.2, 0.5, -0.2,
               0.8, 1.3, 0.5, 2.2, 1.5, 3.2, 4.9, 3.2, 1.0, 3.7,
               2.7, 0.5, 1.5, 2.8, 1.0, 2.0, 0.8, 1.5, 0.2, -0.3,
               1.0, 0.5, -0.8, 3.0, 2.5, 4.4, 1.0, 4.0, 5.2, 1.5,
               3.2, 4.5, 7.2, 3.0, 5.9, 2.0, 8.1, 8.3, 6.5, 9.0,
               7.6, 4.5, 2.2, 5.5, 6.0, 2.3, 6.8, 5.7, 5.4, 2.8,
               3.2, 4.5, 5.7, 2.5, 3.8, 2.0, 4.5, 5.5, 3.5, 8.0, 5.0]
ann_tot_line = [0, 0, 0.1, 0.2, 0.3, 0.3, 0.5, 0.6,
                0.7, 0.9, 1.0, 1.2, 1.3, 1.3, 1.2, 1.2, 1.0, 0.8,
                0.8, 0.6, 0.5, 0.5, 0.3, 0.3, 0.2, 0, 0, 0.2,
                0.3, 0.5, 0.7, 0.8, 1.0, 1.2, 1.5, 1.4, 1.3, 1.5,
                1.5, 1.6, 1.7, 1.7, 1.6, 1.5, 1.4, 1.4, 1.3, 1.2,
                1.1, 1.0, 1.0, 1.2, 1.8, 2.3, 2.0, 1.8, 2.5, 3.0,
                3.0, 3.2, 3.5, 3.6, 4.0, 4.5, 4.8, 5.0, 5.5, 6.0,
                6.0, 5.8, 5.5, 5.3, 5.0, 4.7, 4.5, 4.2, 3.8, 3.7,
                3.6, 3.6, 3.7, 3.8, 4.0, 4.2, 4.3, 4.5, 4.6, 4.8, 5.2]
ann_prj_pts = [0, 0, 0, 0, 0, 0, 0, 0,
               0, 0, 0, 0, 0, 0, 0.2, 0, 0.3, 0,
               0.2, 0.5, -0.3, -0.5, -4.2, -4.2, -5.5, -7.1, -6.4, -3.0,
               -4.5, -2.0, -1.3, -0.8, -4.2, -5.5, -5.3, -7.0, -4.0, -2.3,
               -5.2, -3.0, -0.5, -2.2, -0.7, -2.5, -1.0, -0.5, 0.8, -6.4,
               -10.3, -2.0, 3.2, -4.2, -4.2, -0.6, 1.8, -4.5, -4.7, -0.5,
               1.8, -6.2, -3.8, -4.0, 2.8, -1.8, 3.0, 3.3, -1.5, -2.5,
               -0.8, -3.7, -4.5, -5.0, -1.0, 2.5, -2.0, -6.0, -3.0, -7.7,
               -4.0, -1.5, -0.5, -2.5, 2.5, -1.0, -2.0, -3.0, -7.7, -4.0, -2.0]
ann_prj_line = [0, 0, 0, 0, 0, 0, 0, 0,
                0, 0, 0, 0, 0, 0, 0.1, 0.1, 0.2, 0.2,
                0.2, 0.2, 0.1, 0, -0.5, -1.2, -2.0, -2.8, -3.5, -3.8,
                -4.2, -4.3, -4.1, -4.0, -3.8, -3.5, -3.0, -3.2, -3.3, -3.4,
                -3.5, -3.6, -3.5, -3.8, -3.8, -3.5, -3.7, -4.0, -3.5, -2.8,
                -2.5, -2.2, -2.0, -2.0, -2.1, -2.0, -2.0, -2.2, -2.5, -2.3,
                -1.8, -1.5, -1.8, -2.0, -2.2, -1.5, -0.8, -0.6, -0.8, -1.0,
                -1.3, -1.6, -1.8, -2.2, -2.0, -1.5, -1.2, -1.0, -1.0, -1.2,
                -1.2, -1.0, -0.8, -1.0, -0.5, -0.3, -0.5, -1.2, -0.3, -1.5, -2.3]
ann_sto_pts = [0, 0, -0.2, -0.5, -0.3, -0.8, -0.5, -1.0,
               -1.3, -0.8, -1.5, -1.2, -1.4, -1.0, -1.6, -1.3, -0.9, -1.5,
               -1.2, -1.4, -0.6, -1.0, -1.3, -0.7, -0.9, -1.2, -0.5, -1.1,
               -0.8, -1.0, -0.6, -1.2, -0.9, -1.3, -0.7, -1.1, -1.4, -0.9,
               -1.2, -0.8, -1.5, -1.0, -1.7, -1.3, -1.9, -1.4, -2.0, -1.6,
               -2.2, -1.8, -2.5, -2.0, -2.8, -2.1, -2.4, -1.9, -2.6, -2.3,
               -2.0, -2.7, -2.2, -2.5, -3.0, -2.1, -2.6, -2.3, -1.8, -2.5,
               -2.2, -1.7, -2.4, -2.0, -2.6, -2.3, -3.5, -2.1, -2.7, -2.4,
               -2.5, -2.9, -2.2, -2.8, -3.1, -2.5, -3.0, -2.6, -3.3, -2.8, -2.4]
ann_sto_line = [0, 0, -0.1, -0.2, -0.3, -0.4, -0.5, -0.6,
                -0.7, -0.8, -0.9, -1.0, -1.1, -1.2, -1.3, -1.3, -1.3, -1.4,
                -1.4, -1.3, -1.2, -1.1, -1.0, -1.0, -0.9, -1.0, -0.8, -0.8,
                -0.8, -0.8, -0.9, -0.9, -0.9, -1.0, -0.9, -1.0, -1.0, -1.0,
                -1.0, -1.0, -1.1, -1.2, -1.3, -1.4, -1.5, -1.6, -1.7, -1.8,
                -1.9, -2.0, -2.1, -2.2, -2.2, -2.2, -2.3, -2.3, -2.2, -2.3,
                -2.3, -2.3, -2.4, -2.4, -2.3, -2.3, -2.3, -2.2, -2.1, -2.1,
                -2.0, -2.0, -2.0, -2.1, -2.2, -2.3, -2.3, -2.3, -2.3, -2.4,
                -2.4, -2.5, -2.5, -2.5, -2.6, -2.6, -2.7, -2.7, -2.8, -2.8, -2.9]
ann_div_pts = [0.2, -1.8, 0.5, 1.6, 0.3, 1.0, 0.5, 1.5,
               2.0, 3.7, 2.8, 2.3, 1.5, 2.5, 3.0, 1.8, 2.5, 3.0,
               1.5, 3.5, 2.5, 4.2, 5.7, 3.0, 5.6, 6.6, 6.2, 2.0,
               4.5, 4.9, 3.5, 5.5, 4.0, 1.6, 5.0, 6.9, 8.6, 8.1,
               4.9, 5.5, 4.0, 4.9, 7.3, 2.5, 3.9, 4.9, 5.0, 3.5,
               7.3, 2.8, 1.8, 5.0, 8.6, 11.5, 6.9, 4.4, 5.5, 9.8,
               0.6, 3.5, 6.0, 8.1, 5.0, 10.9, 10.9, 13.6, 3.9, 8.0,
               12.9, 9.0, 6.5, 5.0, 4.5, 4.2, 4.9, 8.0, 5.5, 6.0,
               12.0, 9.7, 10.9, 6.6, 4.0, 5.5, 11.9, 4.5, 15.8, 12.9, 13.0]
ann_div_line = [0, 0, 0.1, 0.3, 0.5, 0.7, 1.0, 1.2,
                1.5, 1.8, 2.0, 2.2, 2.4, 2.5, 2.2, 2.0, 2.0, 2.3,
                2.5, 2.8, 3.2, 3.5, 3.8, 4.0, 4.2, 4.5, 4.5, 4.4,
                4.3, 4.3, 4.4, 4.5, 4.6, 4.8, 5.0, 5.2, 5.3, 5.5,
                5.6, 5.8, 5.9, 6.0, 6.0, 5.0, 5.2, 5.3, 4.8, 4.5,
                4.4, 4.3, 4.6, 5.5, 5.2, 5.0, 5.5, 5.8, 6.0, 5.5,
                5.6, 6.0, 6.3, 6.0, 6.2, 6.5, 7.0, 7.2, 7.5, 7.8,
                8.5, 9.0, 9.5, 9.5, 9.3, 8.0, 7.2, 6.5, 6.4, 6.3,
                6.2, 6.2, 6.3, 6.3, 6.2, 6.0, 6.1, 6.2, 7.0, 8.5, 9.5]

titles = ['(a) Feb', '(b) Apr-Jun', '(c) Aug-Sep', '(d) Nov-Dec', '(e) Annual']
series_names = ['Total', 'Project', 'Non-Project (Storage)', 'Non-Project (Diversion)']
colors = ['#E41A1C', '#377EB8', '#4DAF4A', '#984EA3']

bars_all = [bars_feb, bars_amj, bars_as, bars_nd, bars_ann]
pts_all = [[feb_tot_pts, feb_prj_pts, feb_sto_pts, feb_div_pts],
           [amj_tot_pts, amj_prj_pts, amj_sto_pts, amj_div_pts],
           [as_tot_pts, as_prj_pts, as_sto_pts, as_div_pts],
           [nd_tot_pts, nd_prj_pts, nd_sto_pts, nd_div_pts],
           [ann_tot_pts, ann_prj_pts, ann_sto_pts, ann_div_pts]]
lines_all = [[feb_tot_line, feb_prj_line, feb_sto_line, feb_div_line],
             [amj_tot_line, amj_prj_line, amj_sto_line, amj_div_line],
             [as_tot_line, as_prj_line, as_sto_line, as_div_line],
             [nd_tot_line, nd_prj_line, nd_sto_line, nd_div_line],
             [ann_tot_line, ann_prj_line, ann_sto_line, ann_div_line]]

W, H = 1299, 829
fig = plt.figure(figsize=(W / 100, H / 100), dpi=100)
lefts = [75, 327, 580, 833, 1086]
aw, ah = 212, 315


def style_axes(ax, yticks, ylim, xlabels):
    ax.set_xlim(1918.66, 2013.3)
    ax.set_ylim(*ylim)
    ax.set_yticks(yticks)
    ax.set_yticklabels([str(t) for t in yticks], rotation=90, va='center')
    ax.set_xticks([1920, 1940, 1960, 1980, 2000])
    if xlabels:
        ax.set_xticklabels(['1920', '', '1960', '', '2000'])
    else:
        ax.set_xticklabels([])
    ax.tick_params(direction='out', length=7.5, width=1.1, labelsize=14,
                   color='#333333', labelcolor='#222222')
    ax.tick_params(axis='y', pad=0.5)
    ax.tick_params(axis='x', pad=8)
    for s in ax.spines.values():
        s.set_linewidth(1.4)
        s.set_color('#333333')


for i in range(5):
    # top row: X2 bars
    ax = fig.add_axes([lefts[i] / W, 1 - 347 / H, aw / W, ah / H])
    b = bars_all[i]
    ax.bar(years[:len(b)] + 0.5, b, width=0.96, color='#BEBEBE', linewidth=0)
    style_axes(ax, [40, 60, 80, 100, 120, 140], (37.25, 145.5), False)
    ax.set_title(titles[i], fontsize=18, pad=3)

    # bottom row: X2 change
    ax2 = fig.add_axes([lefts[i] / W, 1 - 683 / H, aw / W, ah / H])
    ax2.axhline(0, color='#BEBEBE', lw=1.3, zorder=1)
    for p, c in zip(pts_all[i], colors):
        ax2.scatter(years[:len(p)] + 0.5, p, s=9, color=c, linewidths=0, zorder=2)
    for ln, c in zip(lines_all[i], colors):
        ax2.plot(years[:len(ln)] + 0.5, ln, color=c, lw=2.0, zorder=3)
    if i == 2:
        style_axes(ax2, [-20, -10, 0, 10, 20], (-26.9, 26.9), True)
    else:
        style_axes(ax2, [-10, -5, 0, 5, 10, 15, 20], (-11.1, 21.0), True)

fig.text(23.5 / W, 1 - 189.5 / H, 'X2 (km)', rotation=90, ha='center', va='center', fontsize=18)
fig.text(23.5 / W, 1 - 525.5 / H, 'X2 change (km)', rotation=90, ha='center', va='center', fontsize=18)

handles = [Patch(facecolor=c, edgecolor='black', linewidth=1.0) for c in colors]
fig.legend(handles, series_names, loc='upper left', bbox_to_anchor=(1045 / W, 1 - 733 / H),
           frameon=False, fontsize=15.2, handlelength=0.75, handleheight=0.45,
           handletextpad=0.75, labelspacing=0.26, borderpad=0, borderaxespad=0)

fig.savefig('out.png', dpi=100)
